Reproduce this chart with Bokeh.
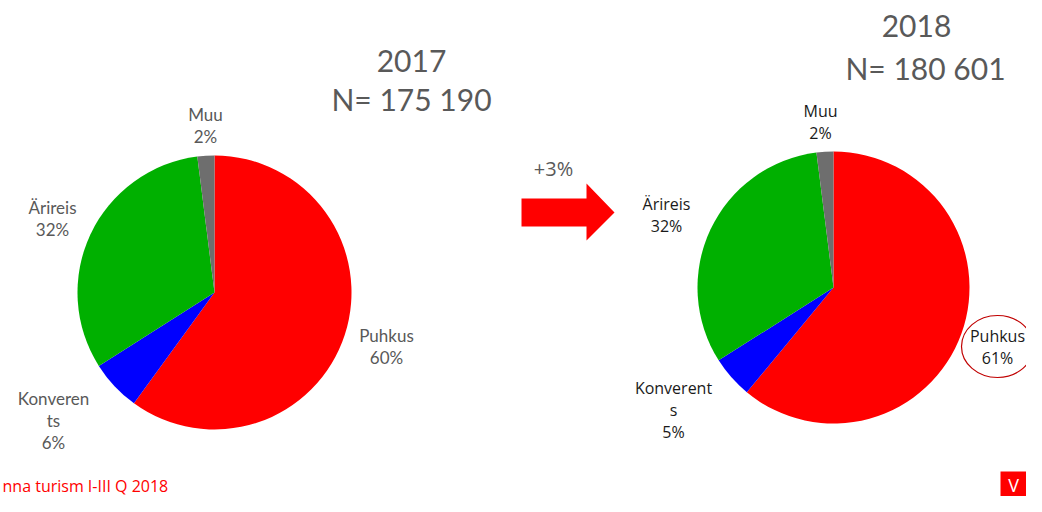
import numpy as np
from bokeh.plotting import figure
from bokeh.models import Range1d, ColumnDataSource
from bokeh.core.properties import value
from bokeh.embed import file_html
from bokeh.resources import INLINE

# ---- data ----
categories = ["Puhkus", "Konverents", "Ärireis", "Muu"]
labels_2017 = ["Puhkus", "Konveren\nts", "Ärireis", "Muu"]
labels_2018 = ["Puhkus", "Konverent\ns", "Ärireis", "Muu"]
share_2017 = [60, 6, 32, 2]
share_2018 = [61, 5, 32, 2]
slice_colors = ["#FF0000", "#0000FF", "#00B000", "#6E6E6E"]
title_2017 = ["2017", "N= 175 190"]
title_2018 = ["2018", "N= 180 601"]
change_text = "+3%"
footer_text = "nna turism I-III Q 2018"

W, H = 1026, 496
p = figure(width=W, height=H, output_backend="svg", toolbar_location=None,
           x_range=Range1d(0, W), y_range=Range1d(512 - H, 512),
           min_border=0, outline_line_color=None)
p.axis.visible = False
p.grid.visible = False
p.background_fill_color = "white"
p.border_fill_color = "white"


def Y(ry):
    return 512 - ry


def pie(cx, cy, r, vals):
    vals = np.array(vals, dtype=float)
    frac = vals / vals.sum()
    cum = np.concatenate([[0], np.cumsum(frac)])
    start = np.pi / 2 - cum[:-1] * 2 * np.pi
    end = np.pi / 2 - cum[1:] * 2 * np.pi
    src = ColumnDataSource(dict(start=start, end=end, color=slice_colors,
                                cat=categories))
    p.wedge(x=cx, y=Y(cy), radius=r, start_angle="start", end_angle="end",
            direction="clock", fill_color="color", line_color=None, source=src)


pie(214, 292, 137, share_2017)
pie(833, 287, 136, share_2018)

# labels
lx17 = [386, 53, 52, 205]
ly17 = [346, 420, 218, 125]
txt17 = [f"{l}\n{v}%" for l, v in zip(labels_2017, share_2017)]
p.text(x=lx17, y=[Y(v) for v in ly17], text=txt17, text_align="center",
       text_baseline="middle", text_font=value("Lato"), text_font_size="17px",
       text_color="#595959", text_line_height=1.05)

lx18 = [997, 673, 666, 820]
ly18 = [346, 409, 214, 121]
txt18 = [f"{l}\n{v}%" for l, v in zip(labels_2018, share_2018)]
p.text(x=lx18, y=[Y(v) for v in ly18], text=txt18, text_align="center",
       text_baseline="middle", text_font=value("Open Sans"), text_font_size="16px",
       text_color="#1A1A1A", text_line_height=1.0)

# titles
p.text(x=[411, 411], y=[Y(60), Y(98)], text=title_2017, text_align="center",
       text_baseline="middle", text_font=value("Lato"), text_font_size="30px",
       text_color="#595959")
p.text(x=[916, 925], y=[Y(25), Y(67)], text=title_2018, text_align="center",
       text_baseline="middle", text_font=value("Lato"), text_font_size="30px",
       text_color="#595959")

# arrow
ax = [521, 586, 586, 614, 586, 586, 521]
ay = [198, 198, 183, 212, 240, 226, 226]
p.patch(x=ax, y=[Y(v) for v in ay], fill_color="#FF0000", line_color=None)
p.text(x=[553], y=[Y(168)], text=[change_text], text_align="center",
       text_baseline="middle", text_font=value("Open Sans"), text_font_size="20px",
       text_color="#595959")

# highlight ellipse
p.ellipse(x=[997], y=[Y(346)], width=72, height=62, fill_color=None,
          line_color="#C00000", line_width=1.2)

# footer
p.text(x=[2], y=[Y(485)], text=[footer_text], text_align="left",
       text_baseline="middle", text_font=value("Open Sans"), text_font_size="16px",
       text_color="#FF0000")

# logo
p.quad(left=[1000], right=[1026], bottom=[Y(496)], top=[Y(471)],
       fill_color="#FF0000", line_color=None)
p.text(x=[1013], y=[Y(484)], text=["V"], text_align="center",
       text_baseline="middle", text_font=value("Open Sans"), text_font_size="18px",
       text_color="white")

open("out.html", "w").write(file_html(p, INLINE))
